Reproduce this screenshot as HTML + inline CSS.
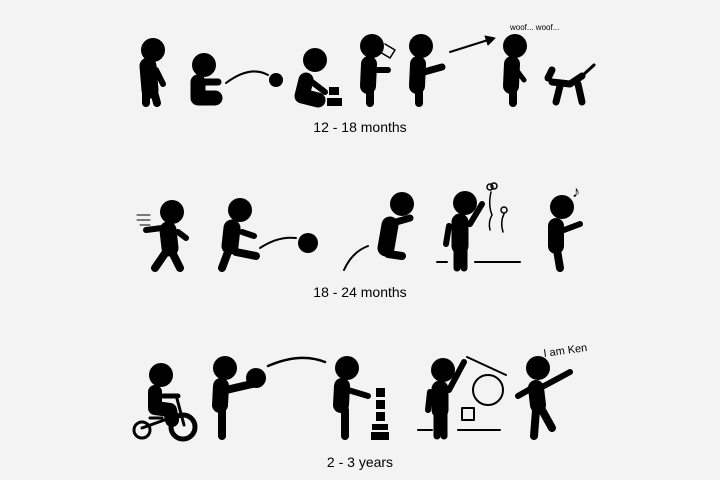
<!DOCTYPE html>
<html><head><meta charset="utf-8"><style>
html,body{margin:0;padding:0;background:#f3f3f3;width:720px;height:480px;overflow:hidden}
svg{display:block}
text{font-family:"Liberation Sans",sans-serif}
</style></head><body>
<svg width="720" height="480" viewBox="0 0 720 480">
<rect width="720" height="480" fill="#f3f3f3"/>
<g fill="#000" stroke="#000" stroke-linecap="round" stroke-linejoin="round">
<!-- Row 1 -->
<g>
<circle cx="153" cy="50" r="12" stroke="none"/>
<path d="M148 66 L150 90" stroke-width="17" fill="none"/>
<path d="M146 92 L146 103 M154 92 L157 103" stroke-width="8" fill="none"/>
<path d="M156 70 L163 84" stroke-width="6" fill="none"/>
</g>
<g>
<circle cx="204" cy="65" r="12" stroke="none"/>
<path d="M198 82 L198 98 L215 98" stroke-width="15" fill="none"/>
<path d="M204 82 L218 82" stroke-width="7" fill="none"/>
<path d="M226 83 Q250 65 268 75" stroke-width="2" fill="none"/>
<circle cx="276" cy="80" r="7" stroke="none"/>
</g>
<g>
<circle cx="315" cy="60" r="12" stroke="none"/>
<path d="M306 80 L302 96 L318 100" stroke-width="15" fill="none"/>
<path d="M312 82 L325 92" stroke-width="6" fill="none"/>
<rect x="329" y="87" width="10" height="8" stroke="none"/>
<rect x="327" y="98" width="15" height="8" stroke="none"/>
</g>
<g>
<circle cx="372" cy="46" r="12" stroke="none"/>
<path d="M369 64 L368 86" stroke-width="16" fill="none"/>
<path d="M370 90 L370 103" stroke-width="8" fill="none"/>
<path d="M375 70 L388 70" stroke-width="6" fill="none"/>
<path d="M385 44 L395 50 L390 58 L380 52" stroke-width="1.5" fill="none"/>
</g>
<g>
<circle cx="421" cy="46" r="12" stroke="none"/>
<path d="M418 64 L417 86" stroke-width="16" fill="none"/>
<path d="M419 90 L419 103" stroke-width="8" fill="none"/>
<path d="M424 72 L442 67" stroke-width="7" fill="none"/>
<path d="M450 52 L488 40" stroke-width="2" fill="none"/>
<path d="M495 38 L485 36 L488 45 Z" stroke-width="1"/>
</g>
<g>
<circle cx="515" cy="46" r="12" stroke="none"/>
<path d="M512 64 L511 86" stroke-width="16" fill="none"/>
<path d="M513 90 L513 103" stroke-width="8" fill="none"/>
<path d="M518 72 L524 80" stroke-width="5" fill="none"/>
<path d="M552 82 L570 84 L582 76 M560 86 L556 102 M578 84 L582 102 M548 78 L552 70" stroke-width="7" fill="none"/>
<path d="M582 76 L594 65" stroke-width="3" fill="none"/>
<text x="510" y="30" font-size="8" stroke="none">woof... woof...</text>
</g>
<text x="360" y="132" font-size="14" text-anchor="middle" stroke="none">12 - 18 months</text>

<!-- Row 2 -->
<g>
<circle cx="172" cy="212" r="12" stroke="none"/>
<path d="M168 230 L170 248" stroke-width="17" fill="none"/>
<path d="M166 252 L155 268 M172 252 L180 268" stroke-width="8" fill="none"/>
<path d="M146 230 L162 228 M178 232 L186 238" stroke-width="6" fill="none"/>
<path d="M137 215 L150 215 M137 220 L150 220 M140 225 L150 225" stroke-width="1" fill="none"/>
</g>
<g>
<circle cx="240" cy="210" r="12" stroke="none"/>
<path d="M232 228 L230 246" stroke-width="17" fill="none"/>
<path d="M228 252 L222 268 M236 252 L256 256" stroke-width="8" fill="none"/>
<path d="M242 232 L254 236" stroke-width="6" fill="none"/>
<path d="M260 248 Q278 236 296 238" stroke-width="2" fill="none"/>
<circle cx="308" cy="243" r="10" stroke="none"/>
</g>
<g>
<circle cx="402" cy="204" r="12" stroke="none"/>
<path d="M390 225 L386 248" stroke-width="17" fill="none"/>
<path d="M388 254 L402 256" stroke-width="8" fill="none"/>
<path d="M396 222 L410 218" stroke-width="7" fill="none"/>
<path d="M344 270 Q352 252 368 246" stroke-width="2" fill="none"/>
</g>
<g>
<circle cx="465" cy="203" r="12" stroke="none"/>
<path d="M460 222 L460 246" stroke-width="17" fill="none"/>
<path d="M457 250 L457 268 M464 250 L464 268" stroke-width="7" fill="none"/>
<path d="M449 226 L446 244 M470 224 L482 204" stroke-width="6" fill="none"/>
<path d="M437 262 L447 262 M475 262 L520 262" stroke-width="2" fill="none"/>
<circle cx="490" cy="187" r="3" fill="none" stroke-width="1.5"/>
<circle cx="494" cy="186" r="3" fill="none" stroke-width="1.5"/>
<path d="M491 192 Q488 205 492 215 Q488 222 490 230" stroke-width="1.5" fill="none"/>
<circle cx="504" cy="210" r="3" fill="none" stroke-width="1.5"/>
<path d="M504 214 Q500 222 503 232" stroke-width="1.5" fill="none"/>
</g>
<g>
<circle cx="562" cy="207" r="12" stroke="none"/>
<path d="M556 226 L556 246" stroke-width="16" fill="none"/>
<path d="M557 250 L560 268" stroke-width="8" fill="none"/>
<path d="M564 230 L580 224" stroke-width="6" fill="none"/>
<text x="572" y="197" font-size="16" stroke="none">♪</text>
</g>
<text x="360" y="297" font-size="14" text-anchor="middle" stroke="none">18 - 24 months</text>

<!-- Row 3 -->
<g>
<circle cx="161" cy="375" r="12" stroke="none"/>
<path d="M155 392 L155 408 L170 410 L172 420" stroke-width="14" fill="none"/>
<path d="M163 396 L178 396" stroke-width="5" fill="none"/>
<path d="M176 395 L184 425 M142 428 L170 418 M150 418 L162 418" stroke-width="3" fill="none"/>
<circle cx="142" cy="430" r="8" fill="none" stroke-width="3"/>
<circle cx="183" cy="427" r="12" fill="none" stroke-width="5"/>
</g>
<g>
<circle cx="225" cy="368" r="12" stroke="none"/>
<path d="M221 386 L220 405" stroke-width="16" fill="none"/>
<path d="M222 410 L222 436" stroke-width="8" fill="none"/>
<path d="M226 390 L252 384" stroke-width="8" fill="none"/>
<circle cx="256" cy="378" r="10" stroke="none"/>
<path d="M268 366 Q300 352 325 362" stroke-width="2.5" fill="none"/>
</g>
<g>
<circle cx="347" cy="368" r="12" stroke="none"/>
<path d="M342 386 L341 405" stroke-width="16" fill="none"/>
<path d="M345 410 L345 436" stroke-width="8" fill="none"/>
<path d="M348 390 L368 396" stroke-width="6" fill="none"/>
<rect x="376" y="388" width="9" height="9" stroke="none"/>
<rect x="376" y="400" width="9" height="9" stroke="none"/>
<rect x="376" y="412" width="9" height="9" stroke="none"/>
<rect x="372" y="424" width="16" height="6" stroke="none"/>
<rect x="371" y="432" width="18" height="8" stroke="none"/>
</g>
<g>
<circle cx="443" cy="370" r="12" stroke="none"/>
<path d="M440 389 L440 410" stroke-width="17" fill="none"/>
<path d="M437 414 L437 436 M444 414 L444 436" stroke-width="7" fill="none"/>
<path d="M430 392 L428 410 M449 390 L464 362" stroke-width="6" fill="none"/>
<path d="M418 430 L432 430 M458 430 L500 430 M467 357 L506 375" stroke-width="2" fill="none"/>
<circle cx="488" cy="390" r="15" fill="none" stroke-width="2"/>
<rect x="462" y="408" width="12" height="12" fill="none" stroke-width="2"/>
</g>
<g>
<circle cx="538" cy="368" r="12" stroke="none"/>
<path d="M536 388 L538 405" stroke-width="16" fill="none"/>
<path d="M536 410 L534 436 M542 410 L552 428" stroke-width="8" fill="none"/>
<path d="M518 396 L532 388 M544 386 L570 372" stroke-width="6" fill="none"/>
<text x="544" y="357" font-size="11" stroke="none" transform="rotate(-8 544 357)">I am Ken</text>
</g>
<text x="360" y="467" font-size="14" text-anchor="middle" stroke="none">2 - 3 years</text>
</g>
</svg>
</body></html>
